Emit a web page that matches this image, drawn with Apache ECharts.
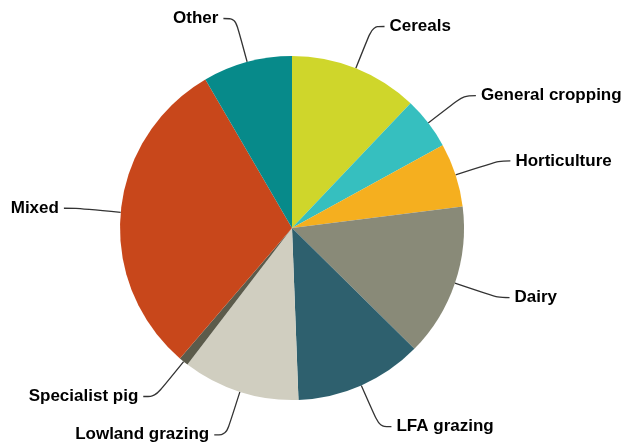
<!DOCTYPE html>
<html>
<head>
<meta charset="utf-8">
<script src="https://cdn.jsdelivr.net/npm/echarts@6/dist/echarts.min.js"></script>
<style>
    html, body { margin: 0; padding: 0; background: #fff; }
    #chart { width: 638px; height: 445px; }
</style>
</head>
<body>
<div id="chart"></div>
<script>
// Farm types (share of total, %)
const categories = ['Cereals', 'General cropping', 'Horticulture', 'Dairy', 'LFA grazing',
    'Lowland grazing', 'Specialist pig', 'Mixed', 'Other'];
const values = [12.1, 4.9, 6.0, 14.4, 12.0, 11.0, 0.9, 30.3, 8.4];
const colors = ['#cfd62b', '#36bfbf', '#f5af1f', '#898a78', '#2e606e',
    '#d0cec0', '#5b5b4b', '#c8471b', '#078a8a'];

const chart = echarts.init(document.getElementById('chart'));

const pieData = categories.map((name, i) => ({
    name: name,
    value: values[i],
    itemStyle: { color: colors[i] }
}));

chart.setOption({
    backgroundColor: '#fff',
    animation: false,
    series: [{
        type: 'pie',
        center: [292, 228],
        radius: 172,
        startAngle: 90,
        clockwise: true,
        data: pieData,
        itemStyle: { borderWidth: 0 },
        label: {
            show: true,
            formatter: '{b}',
            color: '#000',
            fontFamily: '"Liberation Sans", Arial, sans-serif',
            fontWeight: 'bold',
            fontSize: 17
        },
        labelLine: {
            show: true,
            length: 45,
            length2: 12,
            smooth: 0.35,
            lineStyle: { color: '#333', width: 1.3 }
        }
    }]
});
</script>
</body>
</html>
